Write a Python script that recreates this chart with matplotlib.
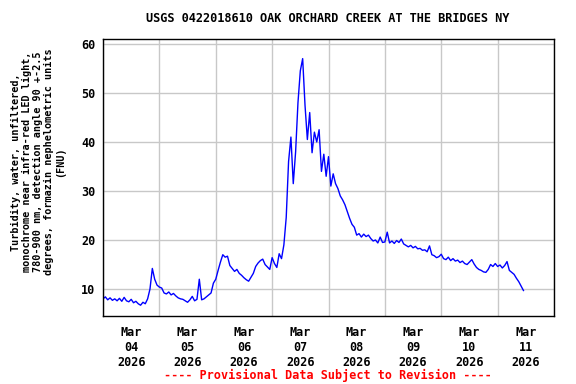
import numpy as np
import matplotlib
matplotlib.use("Agg")
import matplotlib.pyplot as plt
import matplotlib.dates as mdates
from datetime import datetime, timedelta

# hourly turbidity readings (FNU) starting 2026-03-04 00:00
start = datetime(2026, 3, 4, 0, 0)
fnu = [
    8.0, 8.4, 7.8, 8.2, 7.7, 8.0, 7.6, 8.1, 7.5, 8.3,
    7.6, 7.4, 7.9, 7.2, 7.5, 7.0, 6.7, 7.3, 7.0, 8.0,
    10.0, 14.2, 12.0, 10.8, 10.4, 10.2, 9.2, 9.0, 9.4, 8.8,
    9.1, 8.6, 8.2, 8.0, 7.9, 7.6, 7.3, 7.8, 8.5, 7.6,
    7.9, 12.0, 7.8, 8.0, 8.4, 8.8, 9.2, 11.2, 12.0, 13.8,
    15.5, 17.0, 16.5, 16.7, 14.8, 14.2, 13.6, 14.0, 13.2, 12.8,
    12.3, 11.9, 11.6, 12.4, 13.2, 14.6, 15.3, 15.8, 16.1, 15.0,
    14.5, 14.0, 16.4, 15.2, 14.4, 17.2, 16.2, 19.0, 24.6, 36.0,
    41.0, 31.5, 38.0, 48.0, 54.5, 57.0, 47.5, 40.5, 46.0, 37.8,
    42.0, 40.0, 42.5, 34.0, 37.5, 33.0, 37.0, 31.0, 33.5, 31.5,
    30.5, 29.0, 28.2, 27.2, 25.8, 24.4, 23.2, 22.6, 21.0, 21.3,
    20.6, 21.2, 20.7, 21.0, 20.3, 19.8, 20.0, 19.4, 20.6, 19.5,
    19.6, 21.6, 19.4, 19.8, 19.3, 19.9, 19.5, 20.2, 19.2, 18.9,
    18.6, 18.9, 18.4, 18.7, 18.2, 18.3, 17.9, 18.0, 17.6, 18.8,
    17.0, 16.8, 16.4, 16.6, 17.1, 16.2, 16.0, 16.5, 15.8, 16.2,
    15.7, 15.9, 15.4, 15.7, 15.2, 15.0, 15.5, 16.0, 15.1, 14.4,
    14.0, 13.8, 13.5, 13.4, 14.0, 15.0, 14.6, 15.2, 14.6, 14.9,
    14.3, 14.8, 15.6, 13.8, 13.4, 13.0, 12.2, 11.5, 10.6, 9.7,
]
times = [start + timedelta(hours=h) for h in range(len(fnu))]

title = "USGS 0422018610 OAK ORCHARD CREEK AT THE BRIDGES NY"
ylab = ("Turbidity, water, unfiltered,\n"
        "monochrome near infra-red LED light,\n"
        "780-900 nm, detection angle 90 +-2.5\n"
        "degrees, formazin nephelometric units\n"
        "(FNU)")
footer = "---- Provisional Data Subject to Revision ----"

mono = "DejaVu Sans Mono"
fig = plt.figure(figsize=(5.76, 3.84), dpi=100)
ax = fig.add_axes([103/576, 1 - 316/384, 451/576, 277/384])

ax.plot(times, fnu, color="#0000ff", lw=1.0)

ax.set_xlim(datetime(2026, 3, 4), datetime(2026, 3, 12))
ax.set_ylim(4.5, 61)
ax.set_yticks([10, 20, 30, 40, 50, 60])

# gridlines at midnight, labels at noon
ax.xaxis.set_major_locator(mdates.DayLocator())
ax.xaxis.set_major_formatter(plt.NullFormatter())
ax.xaxis.set_minor_locator(mdates.HourLocator(byhour=[12]))
ax.xaxis.set_minor_formatter(mdates.DateFormatter("%b\n%d\n%Y"))
ax.grid(True, which="major", color="#c8c8c8", lw=1.0)
ax.tick_params(axis="both", which="both", length=0)
ax.tick_params(axis="x", which="minor", pad=7)
ax.tick_params(axis="y", pad=5.5)
for lbl in ax.get_xticklabels(minor=True) + ax.get_yticklabels():
    lbl.set_fontfamily(mono)
    lbl.set_fontweight("bold")
    lbl.set_fontsize(8.5)
for s in ax.spines.values():
    s.set_linewidth(1.0)
    s.set_color("black")

fig.text(328/576, 1 - 19/384, title, ha="center", va="center",
         family=mono, weight="bold", fontsize=8.6)
fig.text(38/576, 1 - 162/384, ylab, ha="center", va="center", rotation=90,
         multialignment="center", family=mono, weight="bold", fontsize=7.3,
         linespacing=1.15)
fig.text(328/576, 1 - 375/384, footer, ha="center", va="center",
         family=mono, weight="bold", fontsize=8.5, color="red")

fig.savefig("out.png", dpi=100)
